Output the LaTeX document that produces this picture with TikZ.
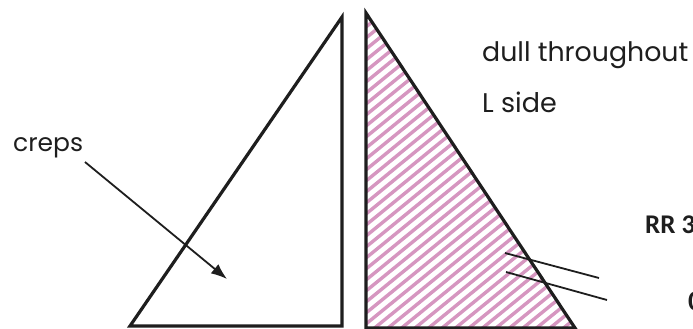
\documentclass[tikz,border=0pt]{standalone}
\usepackage{fontspec}
\setmainfont{Poppins}
\newfontfamily\rrfont{Carlito}
\usetikzlibrary{arrows.meta}
\definecolor{hatchpink}{RGB}{214,150,192}
\definecolor{inkdark}{RGB}{30,30,30}
\tikzset{
  edge/.style={draw=inkdark,line width=3.2pt,line join=miter},
  pointer/.style={draw=inkdark,line width=1.8pt},
  label/.style={inner sep=0pt,anchor=base west,text=inkdark},
  hatchline/.style={draw=hatchpink,line width=3.4pt}
}
\begin{document}
\begin{tikzpicture}[x=1pt,y=-1pt]
\clip (0,0) rectangle (693,329);
\fill[white] (0,0) rectangle (693,329);
% left triangle
\coordinate (LA) at (342,17);
\coordinate (LB) at (130,326);
\coordinate (LC) at (342,326);
\draw[edge] (LA) -- (LB) -- (LC) -- cycle;
% right triangle hatching
\coordinate (RA) at (366,13);
\coordinate (RB) at (366,328);
\coordinate (RC) at (575,328);
\begin{scope}
\clip (RA) -- (RB) -- (RC) -- cycle;
\foreach \y in {18,29,...,580}{
  \draw[hatchline] (350,\y) -- (620,\y-220);
}
\end{scope}
\draw[edge] (RA) -- (RB) -- (RC) -- cycle;
% labels
\node[label,font=\fontsize{26.8}{30}\selectfont] (dull) at (482,62) {dull throughout};
\node[label,font=\fontsize{27}{32}\selectfont] (lside) at (482,112) {L side};
\node[label,font=\fontsize{25}{30}\selectfont] (creps) at (13,151) {creps};
\node[label,font=\rrfont\bfseries\fontsize{27}{30}\selectfont] (rr) at (645,233) {RR 3};
\node[label,font=\rrfont\bfseries\fontsize{28}{32}\selectfont] (zero) at (688,310) {0};
% arrow
\coordinate (tip) at (227,279);
\draw[pointer,-{Latex[length=16pt,width=12pt]}] (85,162) -- (tip);
% two lines
\coordinate (p1) at (505,253);
\coordinate (q1) at (599,278);
\coordinate (p2) at (506,272);
\coordinate (q2) at (607,300);
\draw[pointer] (p1) -- (q1);
\draw[pointer] (p2) -- (q2);
\end{tikzpicture}
\end{document}
